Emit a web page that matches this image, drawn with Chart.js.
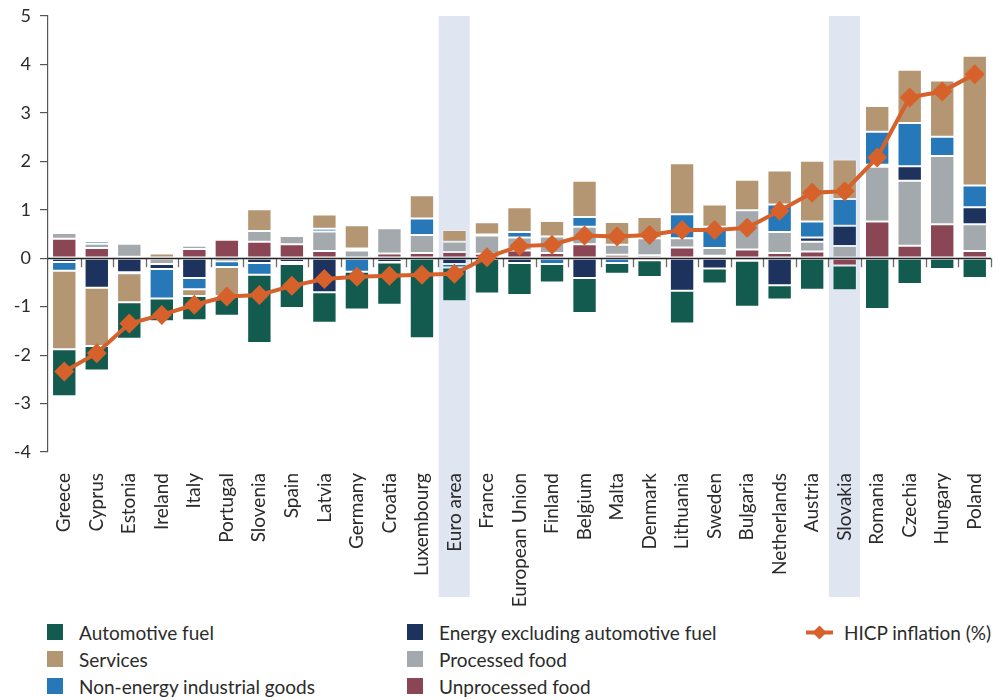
<!DOCTYPE html>
<html>
<head>
<meta charset="utf-8">
<script src="https://cdn.jsdelivr.net/npm/chart.js@4.4.1/dist/chart.umd.min.js"></script>
<style>
  html, body { margin: 0; padding: 0; background: #fff; }
  #wrap { position: relative; width: 1001px; height: 700px; overflow: hidden; font-family: Lato, "Noto Sans", sans-serif; }
  #box { position: absolute; left: 0; top: 0; width: 1001px; height: 610px; }
  .lg-item { position: absolute; height: 27px; font-size: 19px; color: #2b2b2b; white-space: nowrap; }
  .lg-item span.txt { position: absolute; top: 0; line-height: 27px; }
  .lg-item .sw { position: absolute; top: 5px; width: 16px; height: 16px; }
  .lg-item svg { position: absolute; top: 0; }
</style>
</head>
<body>
<div id="wrap">
  <div id="box"><canvas id="c"></canvas></div>
  <div id="legend"></div>
</div>
<script>
// Contributions to HICP inflation by component (percentage points)
const categories = ['Greece', 'Cyprus', 'Estonia', 'Ireland', 'Italy', 'Portugal', 'Slovenia', 'Spain', 'Latvia',
  'Germany', 'Croatia', 'Luxembourg', 'Euro area', 'France', 'European Union', 'Finland', 'Belgium', 'Malta',
  'Denmark', 'Lithuania', 'Sweden', 'Bulgaria', 'Netherlands', 'Austria', 'Slovakia', 'Romania', 'Czechia',
  'Hungary', 'Poland'];

const unprocessedFood = [0.40, 0.21, 0.03, 0.00, 0.19, 0.38, 0.34, 0.29, 0.15, 0.00, 0.10, 0.11, 0.13, 0.09, 0.16,
  0.11, 0.29, 0.07, 0.06, 0.22, 0.05, 0.18, 0.11, 0.14, -0.15, 0.76, 0.26, 0.70, 0.15];
const processedFood = [0.12, 0.09, 0.27, -0.12, 0.07, 0.00, 0.22, 0.17, 0.40, 0.16, 0.52, 0.37, 0.21, 0.38, 0.27,
  0.34, 0.36, 0.21, 0.35, 0.19, 0.16, 0.81, 0.43, 0.20, 0.25, 1.13, 1.34, 1.41, 0.55];
const energyExFuel = [-0.08, -0.61, -0.29, -0.10, -0.41, -0.06, -0.10, -0.08, -0.70, 0.04, -0.08, 0.00, -0.12, 0.00,
  -0.10, 0.00, -0.41, 0.00, 0.00, -0.67, -0.21, 0.00, -0.56, 0.09, 0.42, 0.04, 0.30, 0.00, 0.35];
const nonEnergyGoods = [-0.18, 0.05, -0.02, -0.61, -0.23, -0.12, -0.24, -0.04, 0.06, -0.28, 0.01, 0.34, -0.07, 0.02,
  0.11, -0.12, 0.20, -0.10, -0.04, 0.50, 0.44, -0.05, 0.57, 0.33, 0.55, 0.68, 0.89, 0.40, 0.45];
const services = [-1.62, -1.20, -0.60, 0.10, -0.14, -0.60, 0.45, 0.02, 0.29, 0.48, -0.01, 0.48, 0.24, 0.25, 0.51,
  0.32, 0.75, 0.47, 0.44, 1.05, 0.46, 0.63, 0.70, 1.25, 0.82, 0.53, 1.10, 1.16, 2.68];
const automotiveFuel = [-0.97, -0.51, -0.75, -0.47, -0.50, -0.41, -1.41, -0.91, -0.63, -0.78, -0.87, -1.65, -0.70,
  -0.73, -0.66, -0.38, -0.72, -0.22, -0.35, -0.68, -0.31, -0.95, -0.29, -0.65, -0.51, -1.05, -0.53, -0.22, -0.41];
const hicpInflation = [-2.34, -1.96, -1.35, -1.17, -0.96, -0.79, -0.76, -0.57, -0.43, -0.38, -0.36, -0.34, -0.32,
  0.02, 0.25, 0.28, 0.47, 0.45, 0.48, 0.58, 0.58, 0.63, 0.98, 1.35, 1.38, 2.08, 3.32, 3.44, 3.80];

const highlighted = ['Euro area', 'Slovakia'];
const yTicks = [-4, -3, -2, -1, 0, 1, 2, 3, 4, 5];

const colors = {
  fuel: '#135b4f',
  services: '#b59672',
  goods: '#2778b8',
  energy: '#1d335d',
  processed: '#a3a9ac',
  unprocessed: '#8a4654',
  hicp: '#d6612a'
};

// Stacking order (bottom-up, each sign separately)
const barSeries = [
  { label: 'Unprocessed food', data: unprocessedFood, color: colors.unprocessed },
  { label: 'Processed food', data: processedFood, color: colors.processed },
  { label: 'Energy excluding automotive fuel', data: energyExFuel, color: colors.energy },
  { label: 'Non-energy industrial goods', data: nonEnergyGoods, color: colors.goods },
  { label: 'Services', data: services, color: colors.services },
  { label: 'Automotive fuel', data: automotiveFuel, color: colors.fuel }
];

const FONT = 'Lato, "Noto Sans", sans-serif';

// Shaded columns, zero line and category tick marks
const decor = {
  id: 'decor',
  beforeDraw(chart) {
    const { ctx, chartArea, scales: { x } } = chart;
    const step = x.getPixelForValue(1) - x.getPixelForValue(0);
    ctx.save();
    ctx.fillStyle = '#dfe6f1';
    highlighted.forEach(name => {
      const cx = x.getPixelForValue(categories.indexOf(name));
      ctx.fillRect(cx - step / 2 + 0.5, chartArea.top, step - 1.5, chartArea.bottom + 145 - chartArea.top);
    });
    ctx.restore();
  },
  beforeDatasetsDraw(chart) {
    const { ctx, scales: { x, y } } = chart;
    const y0 = y.getPixelForValue(0);
    const step = x.getPixelForValue(1) - x.getPixelForValue(0);
    ctx.save();
    ctx.strokeStyle = '#6b6b6b';
    ctx.lineWidth = 1.3;
    for (let i = 1; i <= categories.length; i++) {
      const px = Math.round(x.getPixelForValue(i) - step / 2) + 0.5;
      ctx.beginPath();
      ctx.moveTo(px, y0);
      ctx.lineTo(px, y0 + 9);
      ctx.stroke();
    }
    ctx.restore();
  },
  beforeDatasetDraw(chart, args) {
    if (args.meta.type !== 'line') return;
    const { ctx, chartArea, scales: { y } } = chart;
    const y0 = Math.round(y.getPixelForValue(0)) + 0.5;
    ctx.save();
    ctx.strokeStyle = '#222';
    ctx.lineWidth = 1.5;
    ctx.beginPath();
    ctx.moveTo(chartArea.left, y0);
    ctx.lineTo(chartArea.right, y0);
    ctx.stroke();
    ctx.restore();
  }
};

const datasets = barSeries.map(s => ({
  type: 'bar',
  label: s.label,
  data: s.data,
  backgroundColor: s.color,
  borderColor: 'rgba(255,255,255,0.35)',
  borderWidth: 1,
  borderSkipped: false,
  barPercentage: 0.75,
  categoryPercentage: 1,
  order: 1
}));

datasets.push({
  type: 'line',
  label: 'HICP inflation (%)',
  data: hicpInflation,
  borderColor: colors.hicp,
  backgroundColor: colors.hicp,
  borderWidth: 4,
  pointStyle: 'rectRot',
  pointRadius: 10,
  pointBorderWidth: 0,
  tension: 0,
  order: 0
});

new Chart(document.getElementById('c'), {
  data: { labels: categories, datasets },
  plugins: [decor],
  options: {
    responsive: true,
    maintainAspectRatio: false,
    animation: false,
    layout: { padding: { top: 16, right: 9, left: 0, bottom: 0 } },
    plugins: { legend: { display: false }, tooltip: { enabled: false } },
    scales: {
      x: {
        stacked: true,
        offset: true,
        grid: { display: false, drawTicks: false },
        border: { display: false },
        ticks: {
          autoSkip: false, minRotation: 90, maxRotation: 90, padding: 21,
          color: '#2b2b2b', font: { family: FONT, size: 19 }
        },
        afterFit(s) { s.height = 158; s.paddingLeft = 0; s.paddingRight = 0; }
      },
      y: {
        stacked: true,
        min: yTicks[0],
        max: yTicks[yTicks.length - 1],
        afterBuildTicks(s) { s.ticks = yTicks.map(v => ({ value: v })); },
        ticks: { padding: 9, color: '#2b2b2b', font: { family: FONT, size: 18 } },
        grid: { drawOnChartArea: false, drawTicks: true, tickLength: 8, color: '#555', lineWidth: 1.2 },
        border: { display: true, color: '#555', width: 1.2 },
        afterFit(s) { s.width = 48; s.paddingTop = 0; s.paddingBottom = 0; }
      }
    }
  }
});

// Legend laid out in three columns
const legendItems = [
  { label: 'Automotive fuel', color: colors.fuel, col: 0, row: 0 },
  { label: 'Services', color: colors.services, col: 0, row: 1 },
  { label: 'Non-energy industrial goods', color: colors.goods, col: 0, row: 2 },
  { label: 'Energy excluding automotive fuel', color: colors.energy, col: 1, row: 0 },
  { label: 'Processed food', color: colors.processed, col: 1, row: 1 },
  { label: 'Unprocessed food', color: colors.unprocessed, col: 1, row: 2 },
  { label: 'HICP inflation (%)', color: colors.hicp, col: 2, row: 0, line: true }
];
const colX = [47, 407, 806];
const legend = document.getElementById('legend');
legendItems.forEach(it => {
  const d = document.createElement('div');
  d.className = 'lg-item';
  d.style.left = colX[it.col] + 'px';
  d.style.top = (619 + it.row * 27) + 'px';
  if (it.line) {
    d.innerHTML = '<svg width="28" height="27" viewBox="0 0 28 27">' +
      '<line x1="0" y1="13.5" x2="27" y2="13.5" stroke="' + it.color + '" stroke-width="4"/>' +
      '<polygon points="6.5,13.5 13.5,6.5 20.5,13.5 13.5,20.5" fill="' + it.color + '"/></svg>' +
      '<span class="txt" style="left:38px">' + it.label + '</span>';
  } else {
    d.innerHTML = '<div class="sw" style="background:' + it.color + '"></div>' +
      '<span class="txt" style="left:32px">' + it.label + '</span>';
  }
  legend.appendChild(d);
});
</script>
</body>
</html>
